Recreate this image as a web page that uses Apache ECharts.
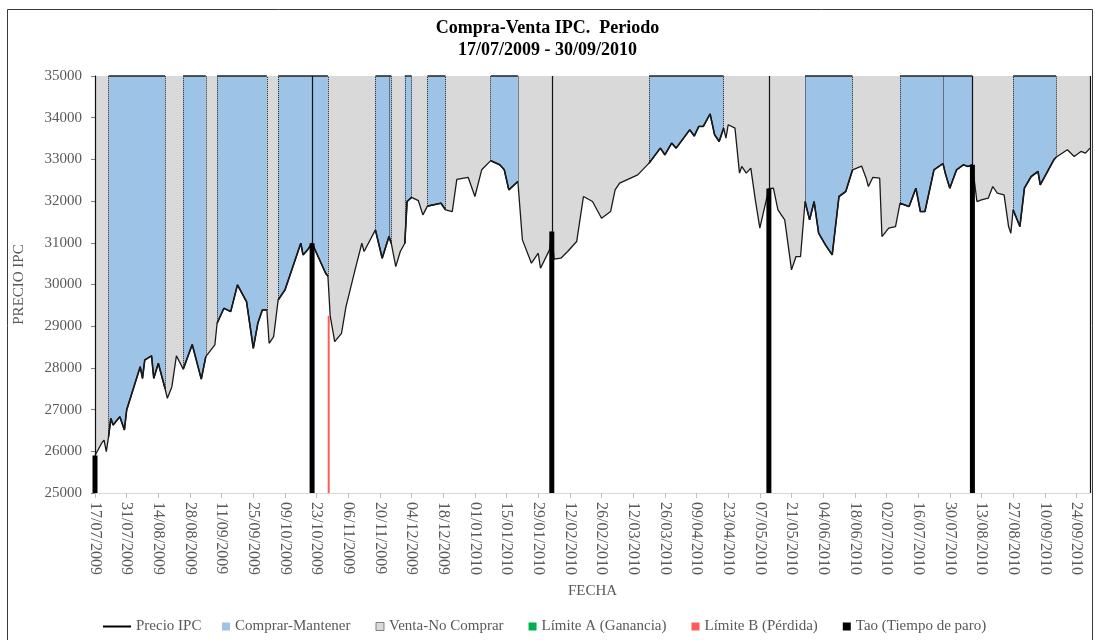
<!DOCTYPE html>
<html>
<head>
<meta charset="utf-8">
<script src="https://cdn.jsdelivr.net/npm/echarts@6/dist/echarts.min.js"></script>
<style>
  html, body { margin: 0; padding: 0; background: #fff; }
  #grafica { width: 1095px; height: 640px; }
</style>
</head>
<body>
<div id="grafica"></div>
<script>
// fecha inicial del periodo, los dias se cuentan desde aqui
var fechaInicio = Date.UTC(2009, 6, 17);
var diasTotales = 440;

// serie de precios (dia desde 17/07/2009, precio)
var dias = [0, 3, 4, 5, 6, 7, 8, 11, 13, 14, 20, 21, 22, 25, 26, 28, 31, 32, 34, 36,
  39, 43, 47, 49, 53, 54, 57, 60, 63, 67, 70, 72, 74, 76, 77, 79, 81, 84, 91, 92,
  94, 96, 102, 103, 104, 106, 109, 111, 115, 118, 119, 124, 127, 130, 131, 133, 135, 137, 138, 140,
  143, 145, 147, 153, 155, 158, 160, 165, 168, 171, 175, 179, 181, 183, 187, 189, 193, 196, 197, 201,
  202, 203, 206, 209, 213, 216, 220, 224, 228, 230, 232, 240, 245, 250, 252, 255, 257, 263, 265, 267,
  269, 272, 274, 276, 278, 279, 280, 283, 285, 286, 288, 290, 292, 294, 298, 300, 302, 305, 308, 310,
  312, 314, 316, 318, 320, 323, 326, 329, 332, 335, 339, 341, 342, 344, 347, 348, 351, 354, 356, 360,
  363, 365, 367, 371, 375, 376, 378, 381, 384, 386, 388, 390, 392, 395, 397, 399, 402, 404, 405, 406,
  409, 411, 414, 417, 418, 424, 425, 430, 433, 436, 438, 440];
var precioIPC = [25900, 26200, 26270, 25990, 26350, 26790, 26630, 26830, 26510, 26990, 28030, 27750, 28190, 28290, 27750, 28110, 27500, 27270, 27550, 28290,
  27970, 28560, 27730, 28270, 28550, 29070, 29430, 29350, 29990, 29590, 28470, 29070, 29390, 29390, 28590, 28750, 29630, 29870, 30990, 30710,
  30830, 30990, 30270, 30200, 29250, 28630, 28830, 29470, 30350, 30990, 30790, 31310, 30630, 31150, 30990, 30430, 30790, 30990, 31990, 32090,
  32010, 31670, 31880, 31950, 31790, 31750, 32520, 32570, 32110, 32750, 32970, 32870, 32750, 32270, 32470, 31070, 30510, 30750, 30390, 30830,
  31270, 30610, 30630, 30790, 31030, 32110, 31990, 31590, 31750, 32270, 32430, 32630, 32910, 33270, 33110, 33390, 33270, 33710, 33560, 33790,
  33790, 34090, 33590, 33430, 33750, 33510, 33830, 33750, 32670, 32830, 32670, 32790, 32030, 31350, 32300, 32310, 31790, 31550, 30350, 30670,
  30670, 31990, 31550, 31990, 31230, 30950, 30710, 32110, 32230, 32750, 32840, 32550, 32350, 32570, 32550, 31150, 31350, 31390, 31950, 31870,
  32310, 31750, 31750, 32750, 32900, 32670, 32310, 32750, 32870, 32830, 32870, 31990, 32030, 32070, 32350, 32190, 32150, 31390, 31230, 31790,
  31390, 32310, 32590, 32710, 32390, 32990, 33050, 33230, 33070, 33190, 33150, 33270];

// tramos de compra (inicio, fin) en dias; el resto es venta
var tramosComprar = [[6, 31], [39, 49], [54, 76], [81, 103], [124, 131], [137, 140], [147, 155],
  [175, 187], [245, 278], [314, 335], [356, 388], [406, 425]];
var cortesExtra = [130, 375];
var diasTao = [0, 96, 202, 298, 388];
var diasLimiteA = [];
var diasLimiteB = [104];

var techo = 35000;
var piso = 25000;

var precioPorDia = {};
dias.forEach(function (d, i) { precioPorDia[d] = precioIPC[i]; });

function fechaTexto(d) {
  var f = new Date(fechaInicio + d * 86400000);
  var dd = ('0' + f.getUTCDate()).slice(-2);
  var mm = ('0' + (f.getUTCMonth() + 1)).slice(-2);
  return dd + '/' + mm + '/' + f.getUTCFullYear();
}

function enCompra(d) {
  for (var k = 0; k < tramosComprar.length; k++) {
    if (d >= tramosComprar[k][0] && d <= tramosComprar[k][1]) return true;
  }
  return false;
}

var datosPrecio = dias.map(function (d, i) { return [d, precioIPC[i]]; });
var datosComprar = dias.map(function (d, i) { return [d, enCompra(d) ? precioIPC[i] : '-']; });

// lineas verticales punteadas en los cambios de tramo
var verticales = [];
tramosComprar.forEach(function (t) {
  t.forEach(function (d) {
    verticales.push([{ coord: [d, precioPorDia[d]] }, { coord: [d, techo] }]);
  });
});
cortesExtra.forEach(function (d) {
  verticales.push([{ coord: [d, precioPorDia[d]] }, { coord: [d, techo] }]);
});
var techosCompra = tramosComprar.map(function (t) {
  return [{ coord: [t[0], techo], lineStyle: { type: 'solid', width: 1.5 } },
          { coord: [t[1], techo] }];
});
var verticalesTao = diasTao.map(function (d) {
  return [{ coord: [d, precioPorDia[d]] }, { coord: [d, techo] }];
});
verticalesTao.push([{ coord: [diasTotales, piso] }, { coord: [diasTotales, techo] }]);

var fuente = 'Liberation Serif';
var gris = '#595959';

var myChart = echarts.init(document.getElementById('grafica'));

var option = {
  animation: false,
  title: {
    text: 'Compra-Venta IPC.  Periodo\n17/07/2009 - 30/09/2010',
    left: 'center',
    top: 12,
    textStyle: { fontFamily: fuente, fontSize: 18, fontWeight: 'bold', color: '#000', lineHeight: 22 }
  },
  graphic: [{
    type: 'rect',
    shape: { x: 7.5, y: 9.5, width: 1085, height: 640 },
    style: { fill: 'none', stroke: '#3a3a3a', lineWidth: 1 }
  }],
  legend: [{
    data: ['Precio IPC'],
    left: 98,
    top: 614,
    icon: 'rect',
    itemWidth: 28,
    itemHeight: 2,
    textStyle: { fontFamily: fuente, fontSize: 15, color: gris }
  }, {
    data: [
      { name: 'Comprar-Mantener' },
      { name: 'Venta-No Comprar', itemStyle: { borderColor: '#7f7f7f', borderWidth: 1 } },
      { name: 'Límite A (Ganancia)' },
      { name: 'Límite B (Pérdida)' },
      { name: 'Tao (Tiempo de paro)' }
    ],
    left: 217,
    top: 614,
    icon: 'rect',
    itemWidth: 8,
    itemHeight: 8,
    itemGap: 25,
    textStyle: { fontFamily: fuente, fontSize: 15, color: gris }
  }],
  grid: { left: 95, right: 5, top: 76, bottom: 147 },
  xAxis: {
    type: 'value',
    min: 0,
    max: diasTotales,
    interval: 14,
    name: 'FECHA',
    nameLocation: 'middle',
    nameGap: 91,
    nameTextStyle: { fontFamily: fuente, fontSize: 15, color: gris },
    axisLine: { lineStyle: { color: '#d9d9d9' } },
    axisTick: { lineStyle: { color: '#bfbfbf' }, length: 5 },
    splitLine: { show: false },
    axisLabel: {
      rotate: -90,
      margin: 9,
      fontFamily: fuente,
      fontSize: 16,
      color: gris,
      showMaxLabel: false,
      formatter: function (v) { return v % 14 === 0 ? fechaTexto(v) : ''; }
    }
  },
  yAxis: {
    type: 'value',
    min: piso,
    max: techo,
    interval: 1000,
    name: 'PRECIO IPC',
    nameLocation: 'middle',
    nameGap: 68,
    nameTextStyle: { fontFamily: fuente, fontSize: 15, color: gris },
    axisLine: { show: true, lineStyle: { color: '#000', width: 1 } },
    axisTick: { show: true, length: 4, lineStyle: { color: '#7f7f7f' } },
    splitLine: { show: false },
    axisLabel: {
      fontFamily: fuente, fontSize: 15, color: gris, margin: 13,
      formatter: function (v) { return String(v); }
    }
  },
  series: [
    {
      name: 'Venta-No Comprar',
      type: 'line',
      data: datosPrecio,
      symbol: 'none',
      color: '#d9d9d9',
      lineStyle: { width: 0 },
      areaStyle: { origin: 'end', color: '#d9d9d9', opacity: 1 },
      z: 1
    },
    {
      name: 'Comprar-Mantener',
      type: 'line',
      data: datosComprar,
      symbol: 'none',
      color: '#9dc3e6',
      connectNulls: false,
      lineStyle: { width: 1.6, color: '#111' },
      areaStyle: { origin: 'end', color: '#9dc3e6', opacity: 1 },
      markLine: {
        silent: true,
        symbol: 'none',
        label: { show: false },
        lineStyle: { color: '#222', type: 'dotted', width: 1 },
        data: verticales.concat(techosCompra)
      },
      z: 2
    },
    {
      name: 'Precio IPC',
      type: 'line',
      data: datosPrecio,
      symbol: 'none',
      color: '#000',
      lineStyle: { width: 1.3, color: '#1a1a1a' },
      markLine: {
        silent: true,
        symbol: 'none',
        label: { show: false },
        lineStyle: { color: '#111', type: 'solid', width: 1.2 },
        data: verticalesTao
      },
      z: 3
    },
    {
      name: 'Límite A (Ganancia)',
      type: 'bar',
      data: diasLimiteA.map(function (d) { return [d, precioPorDia[d]]; }),
      color: '#00b050',
      barWidth: 2,
      z: 4
    },
    {
      name: 'Límite B (Pérdida)',
      type: 'bar',
      data: diasLimiteB.map(function (d) { return [d, precioPorDia[d]]; }),
      color: '#ff5b5b',
      barWidth: 2,
      barGap: '-100%',
      clip: true,
      z: 4
    },
    {
      name: 'Tao (Tiempo de paro)',
      type: 'bar',
      data: diasTao.map(function (d) { return [d, precioPorDia[d]]; }),
      color: '#000',
      barWidth: 5,
      barGap: '-100%',
      clip: true,
      z: 4
    }
  ]
};

myChart.setOption(option);
</script>
</body>
</html>
